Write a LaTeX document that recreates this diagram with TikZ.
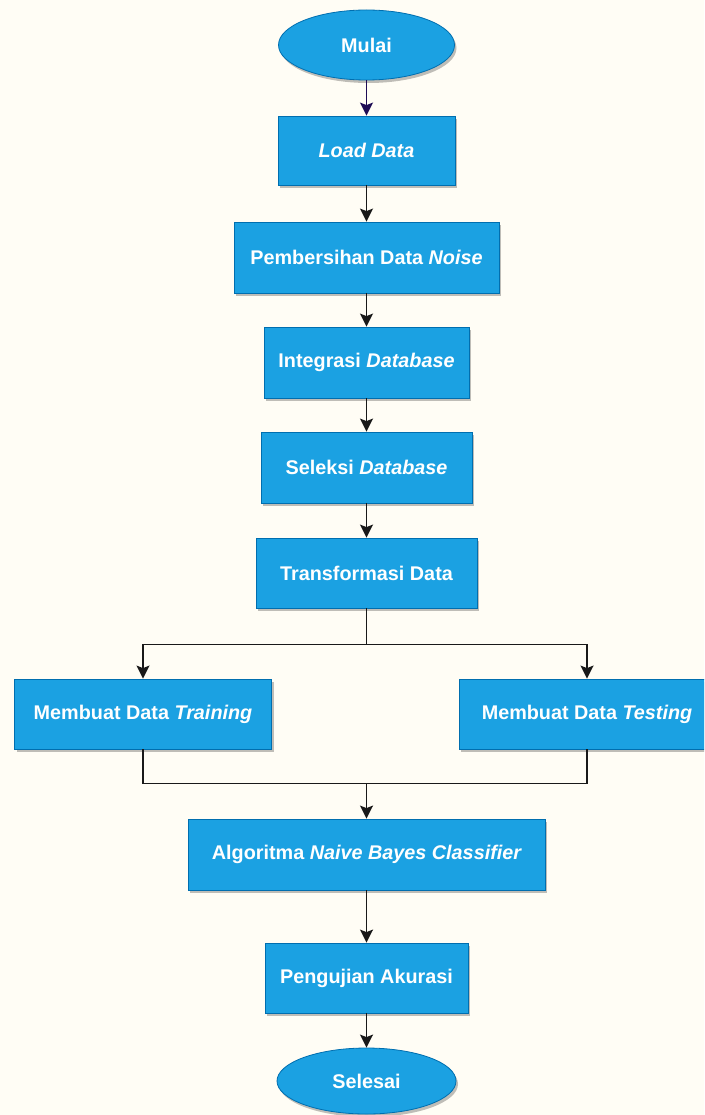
\documentclass[tikz,border=0pt]{standalone}
\usepackage{fontspec}
\setmainfont{Liberation Sans}
\usetikzlibrary{shapes.geometric,arrows.meta,shadows,calc}
\definecolor{bg}{RGB}{255,253,245}
\definecolor{boxfill}{RGB}{27,161,226}
\definecolor{boxline}{RGB}{0,110,175}
\definecolor{navy}{RGB}{30,12,85}
\definecolor{lin}{RGB}{25,25,25}
\tikzset{
  box/.style={rectangle, draw=boxline, line width=0.8pt, fill=boxfill, text=white,
    font=\bfseries\fontsize{19.8}{23}\selectfont, inner sep=0pt,
    drop shadow={shadow xshift=2pt, shadow yshift=-3pt, fill=black, opacity=0.25}},
  term/.style={box, ellipse},
  arr/.style={draw=lin, line width=1.6pt, -{Stealth[width=13pt,length=13pt,inset=2.5pt]}},
  ln/.style={draw=lin, line width=1.6pt},
}
\begin{document}
\begin{tikzpicture}[x=1pt,y=-1pt]
\useasboundingbox (0,0) rectangle (704,1115);
\fill[bg] (0,0) rectangle (704,1115);
\clip (0,0) rectangle (704,1115);
\node[term, minimum width=176pt, minimum height=70pt] (mulai) at (366.5,45) {Mulai};
\node[box, minimum width=177pt, minimum height=69pt] (load) at (366.5,150.5) {\itshape Load Data};
\node[box, minimum width=265pt, minimum height=71pt] (clean) at (366.5,257.5) {Pembersihan Data \itshape Noise};
\node[box, minimum width=205pt, minimum height=71pt] (integ) at (366.5,362.5) {Integrasi \itshape Database};
\node[box, minimum width=211pt, minimum height=71pt] (sel) at (366.5,467.5) {Seleksi \itshape Database};
\node[box, minimum width=221pt, minimum height=70pt] (trans) at (366.5,573) {Transformasi Data};
\node[box, minimum width=257pt, minimum height=70pt] (train) at (143,714) {Membuat Data \itshape Training};
\node[box, minimum width=256pt, minimum height=70pt] (test) at (587,714) {Membuat Data \itshape Testing};
\node[box, minimum width=357pt, minimum height=71pt] (algo) at (366.5,854.5) {Algoritma \itshape Naive Bayes Classifier};
\node[box, minimum width=203pt, minimum height=70pt] (peng) at (366.5,978) {Pengujian Akurasi};
\node[term, minimum width=179pt, minimum height=66pt] (sls) at (366.5,1081) {Selesai};

\draw[arr, draw=navy] (mulai) -- (load);
\draw[arr] (load) -- (clean);
\draw[arr] (clean) -- (integ);
\draw[arr] (integ) -- (sel);
\draw[arr] (sel) -- (trans);
\coordinate (sp) at ($(trans.south)+(0,36)$);
\draw[ln] (trans) -- (sp);
\draw[arr] (sp) -| (train);
\draw[arr] (sp) -| (test);
\coordinate (mg) at ($(algo.north)+(0,-35)$);
\draw[ln] (train) |- (mg);
\draw[ln] (test) |- (mg);
\draw[arr] (mg) -- (algo);
\draw[arr] (algo) -- (peng);
\draw[arr] (peng) -- (sls);
\end{tikzpicture}
\end{document}
